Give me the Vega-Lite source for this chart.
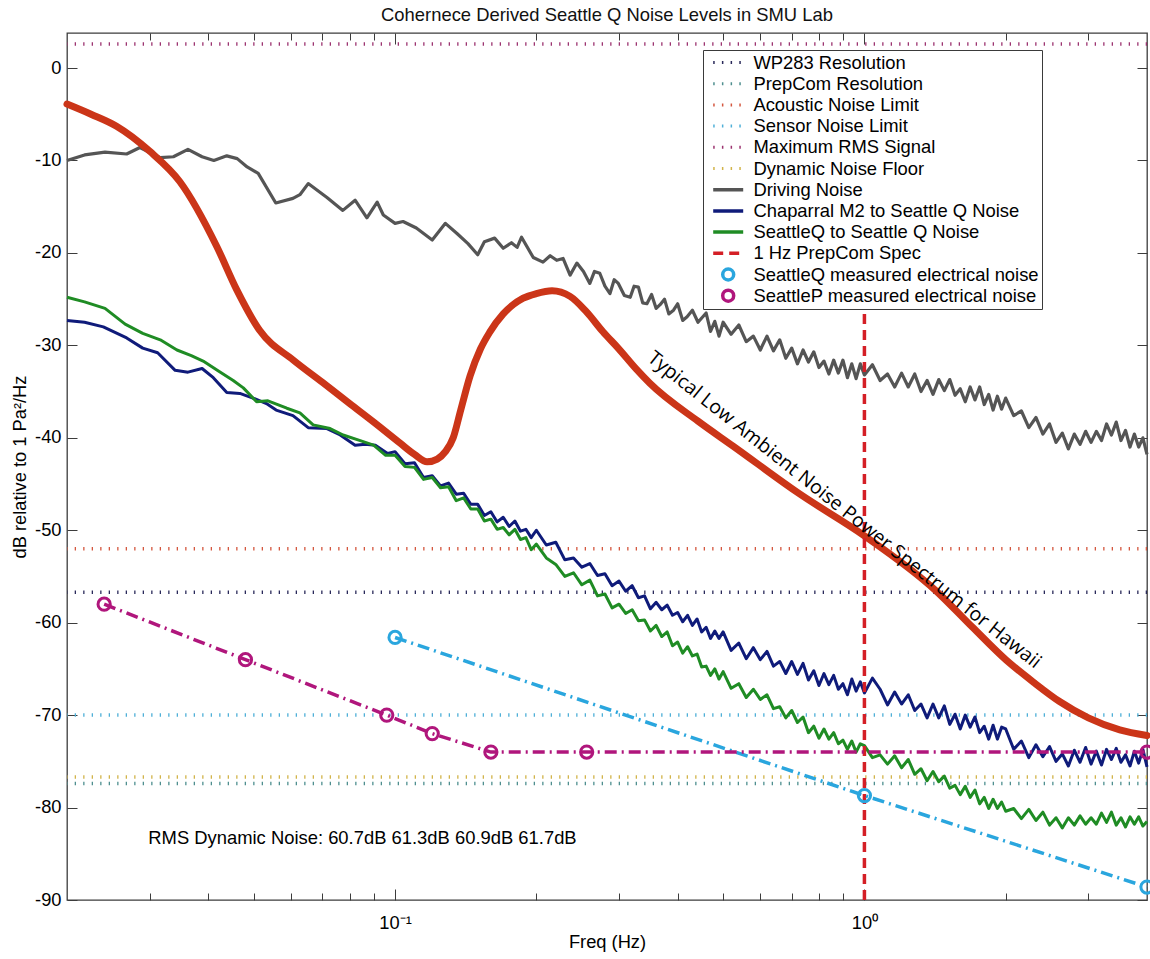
{
  "$schema": "https://vega.github.io/schema/vega-lite/v6.json",
  "width": 1080,
  "height": 867,
  "autosize": {"type": "none"},
  "padding": {"left": 67, "top": 33, "right": 3, "bottom": 59},
  "background": "white",
  "config": {
    "view": {"stroke": "#3c3c3c", "strokeWidth": 1.3},
    "font": "Liberation Sans",
    "axis": {"tickColor": "#3c3c3c", "labelColor": "#000", "titleColor": "#000", "grid": false, "domain": false, "tickWidth": 1}
  },
  "title": {"text": "Cohernece Derived Seattle Q Noise Levels in SMU Lab", "fontSize": 18.4, "fontWeight": "normal", "font": "Liberation Sans", "color": "#111", "frame": "group", "anchor": "middle", "offset": 8},
  "datasets": {
    "hl": [
      {"s": "WP283 Resolution", "v": -56.7},
      {"s": "PrepCom Resolution", "v": -77.4},
      {"s": "Acoustic Noise Limit", "v": -52.0},
      {"s": "Sensor Noise Limit", "v": -70.0},
      {"s": "Maximum RMS Signal", "v": 2.6},
      {"s": "Dynamic Noise Floor", "v": -76.7}
    ],
    "vr": [{"f": 1}],
    "meas": [
      {"s": "SeattleQ measured electrical noise", "f": 0.1, "v": -61.6},
      {"s": "SeattleQ measured electrical noise", "f": 1, "v": -78.7},
      {"s": "SeattleQ measured electrical noise", "f": 4, "v": -88.6},
      {"s": "SeattleP measured electrical noise", "f": 0.024, "v": -58.0},
      {"s": "SeattleP measured electrical noise", "f": 0.048, "v": -64.0},
      {"s": "SeattleP measured electrical noise", "f": 0.096, "v": -70.0},
      {"s": "SeattleP measured electrical noise", "f": 0.12, "v": -72.0},
      {"s": "SeattleP measured electrical noise", "f": 0.16, "v": -74.0},
      {"s": "SeattleP measured electrical noise", "f": 0.256, "v": -74.0},
      {"s": "SeattleP measured electrical noise", "f": 4, "v": -74.0}
    ],
    "ann": [{"f": 0.0298, "v": -83.3, "t": "RMS Dynamic Noise: 60.7dB 61.3dB 60.9dB 61.7dB"}],
    "ann2": [{"f": 0.906, "v": -47.8, "t": "Typical Low Ambient Noise Power Spectrum for Hawaii"}],
    "red": [
      {"f": 0.02, "v": -3.9}, {"f": 0.0225, "v": -5.0}, {"f": 0.0255, "v": -6.3}, {"f": 0.03, "v": -9.0},
      {"f": 0.0348, "v": -12.3}, {"f": 0.0417, "v": -19.3}, {"f": 0.046, "v": -24.0}, {"f": 0.0515, "v": -28.4},
      {"f": 0.0607, "v": -31.6}, {"f": 0.07, "v": -34.0}, {"f": 0.08, "v": -36.3}, {"f": 0.09, "v": -38.3},
      {"f": 0.1026, "v": -40.6}, {"f": 0.11, "v": -41.8}, {"f": 0.117, "v": -42.6}, {"f": 0.123, "v": -42.3},
      {"f": 0.128, "v": -41.5}, {"f": 0.133, "v": -40.0}, {"f": 0.138, "v": -37.0}, {"f": 0.1445, "v": -33.3},
      {"f": 0.152, "v": -30.4}, {"f": 0.159, "v": -28.6}, {"f": 0.17, "v": -26.6}, {"f": 0.1875, "v": -24.9},
      {"f": 0.2, "v": -24.4}, {"f": 0.216, "v": -24.1}, {"f": 0.236, "v": -24.7}, {"f": 0.255, "v": -26.3},
      {"f": 0.277, "v": -28.5}, {"f": 0.3, "v": -30.4}, {"f": 0.327, "v": -32.6}, {"f": 0.349, "v": -34.1},
      {"f": 0.442, "v": -38.2}, {"f": 0.525, "v": -40.9}, {"f": 0.729, "v": -46.1}, {"f": 1.0, "v": -50.6},
      {"f": 1.417, "v": -56.5}, {"f": 1.7, "v": -60.5}, {"f": 2.0, "v": -64.0}, {"f": 2.3, "v": -66.5},
      {"f": 2.6, "v": -68.5}, {"f": 3.0, "v": -70.3}, {"f": 3.5, "v": -71.6}, {"f": 4.0, "v": -72.2}
    ],
    "gray": [
      {"f": 0.02, "v": -10.0}, {"f": 0.0218, "v": -9.4}, {"f": 0.0241, "v": -9.1}, {"f": 0.0268, "v": -9.3},
      {"f": 0.0286, "v": -8.6}, {"f": 0.0316, "v": -9.7}, {"f": 0.0337, "v": -9.6}, {"f": 0.0362, "v": -8.8},
      {"f": 0.0388, "v": -9.6}, {"f": 0.0411, "v": -10.0}, {"f": 0.0438, "v": -9.5}, {"f": 0.0461, "v": -9.8},
      {"f": 0.0484, "v": -10.7}, {"f": 0.0511, "v": -11.4}, {"f": 0.0557, "v": -14.6}, {"f": 0.0606, "v": -14.1},
      {"f": 0.0627, "v": -13.7}, {"f": 0.0653, "v": -12.5}, {"f": 0.0716, "v": -14.0}, {"f": 0.0774, "v": -15.4},
      {"f": 0.0822, "v": -14.3}, {"f": 0.0871, "v": -16.2}, {"f": 0.0916, "v": -14.5}, {"f": 0.0944, "v": -15.9},
      {"f": 0.1, "v": -16.8}, {"f": 0.104, "v": -16.6}, {"f": 0.111, "v": -17.3}, {"f": 0.12, "v": -18.6},
      {"f": 0.128, "v": -16.8}, {"f": 0.1355, "v": -17.9}, {"f": 0.143, "v": -19.0}, {"f": 0.15, "v": -20.2},
      {"f": 0.155, "v": -18.8}, {"f": 0.163, "v": -18.4}, {"f": 0.17, "v": -19.5}, {"f": 0.177, "v": -18.9},
      {"f": 0.182, "v": -19.4}, {"f": 0.186, "v": -18.3}, {"f": 0.197, "v": -20.5}, {"f": 0.2066, "v": -21.0},
      {"f": 0.214, "v": -20.3}, {"f": 0.221, "v": -20.8}, {"f": 0.228, "v": -20.6}, {"f": 0.236, "v": -22.4},
      {"f": 0.244, "v": -21.1}, {"f": 0.252, "v": -22.0}, {"f": 0.26, "v": -23.3}, {"f": 0.266, "v": -22.0},
      {"f": 0.273, "v": -22.2}, {"f": 0.28, "v": -23.6}, {"f": 0.287, "v": -24.4}, {"f": 0.293, "v": -22.9},
      {"f": 0.299, "v": -23.3}, {"f": 0.308, "v": -24.6}, {"f": 0.317, "v": -24.8}, {"f": 0.323, "v": -23.6},
      {"f": 0.33, "v": -23.7}, {"f": 0.337, "v": -25.4}, {"f": 0.344, "v": -25.5}, {"f": 0.352, "v": -24.5},
      {"f": 0.36, "v": -26.0}, {"f": 0.367, "v": -25.6}, {"f": 0.375, "v": -25.0}, {"f": 0.383, "v": -26.6},
      {"f": 0.392, "v": -26.2}, {"f": 0.4, "v": -25.5}, {"f": 0.41, "v": -27.3}, {"f": 0.419, "v": -26.9},
      {"f": 0.43, "v": -26.2}, {"f": 0.442, "v": -27.5},
      {"f": 0.46, "v": -26.5}, {"f": 0.47, "v": -28.5}, {"f": 0.48, "v": -27.4}, {"f": 0.49, "v": -29.0},
      {"f": 0.5, "v": -27.5}, {"f": 0.52, "v": -28.8}, {"f": 0.54, "v": -27.8}, {"f": 0.56, "v": -29.6},
      {"f": 0.58, "v": -29.0}, {"f": 0.6, "v": -30.5}, {"f": 0.62, "v": -29.0}, {"f": 0.64, "v": -30.6},
      {"f": 0.66, "v": -29.4}, {"f": 0.68, "v": -31.4}, {"f": 0.7, "v": -30.3}, {"f": 0.72, "v": -32.0},
      {"f": 0.74, "v": -30.5}, {"f": 0.76, "v": -31.8}, {"f": 0.78, "v": -30.7}, {"f": 0.8, "v": -32.4},
      {"f": 0.82, "v": -31.7}, {"f": 0.84, "v": -33.1}, {"f": 0.86, "v": -31.6}, {"f": 0.88, "v": -33.0},
      {"f": 0.9, "v": -31.6}, {"f": 0.92, "v": -33.5}, {"f": 0.94, "v": -32.0}, {"f": 0.96, "v": -33.6},
      {"f": 0.98, "v": -32.0}, {"f": 1.0, "v": -33.2}, {"f": 1.04, "v": -32.1}, {"f": 1.08, "v": -33.8},
      {"f": 1.12, "v": -33.1}, {"f": 1.16, "v": -34.5}, {"f": 1.2, "v": -33.0}, {"f": 1.24, "v": -34.5},
      {"f": 1.28, "v": -33.1}, {"f": 1.32, "v": -35.0}, {"f": 1.36, "v": -33.8}, {"f": 1.4, "v": -35.3},
      {"f": 1.44, "v": -33.7}, {"f": 1.48, "v": -34.9}, {"f": 1.52, "v": -33.7}, {"f": 1.56, "v": -35.4},
      {"f": 1.6, "v": -34.7}, {"f": 1.64, "v": -36.1}, {"f": 1.68, "v": -34.5}, {"f": 1.72, "v": -35.9},
      {"f": 1.76, "v": -34.5}, {"f": 1.8, "v": -36.4}, {"f": 1.84, "v": -35.3}, {"f": 1.88, "v": -37.0},
      {"f": 1.92, "v": -35.5}, {"f": 1.96, "v": -36.9}, {"f": 2.0, "v": -35.7}, {"f": 2.08, "v": -37.6},
      {"f": 2.16, "v": -37.1}, {"f": 2.24, "v": -38.9}, {"f": 2.32, "v": -37.8}, {"f": 2.4, "v": -39.6},
      {"f": 2.48, "v": -38.5}, {"f": 2.56, "v": -40.5}, {"f": 2.64, "v": -39.5}, {"f": 2.72, "v": -41.2},
      {"f": 2.8, "v": -39.6}, {"f": 2.88, "v": -40.7}, {"f": 2.96, "v": -39.3}, {"f": 3.04, "v": -40.5},
      {"f": 3.12, "v": -39.3}, {"f": 3.2, "v": -40.3}, {"f": 3.28, "v": -38.5}, {"f": 3.36, "v": -39.7},
      {"f": 3.44, "v": -38.3}, {"f": 3.52, "v": -40.3}, {"f": 3.6, "v": -39.2}, {"f": 3.68, "v": -41.0},
      {"f": 3.76, "v": -39.6}, {"f": 3.84, "v": -41.0}, {"f": 3.92, "v": -40.0}, {"f": 4.0, "v": -41.8}
    ],
    "navy": [
      {"f": 0.02, "v": -27.3}, {"f": 0.0218, "v": -27.5}, {"f": 0.0239, "v": -28.0}, {"f": 0.0268, "v": -29.2},
      {"f": 0.029, "v": -30.3}, {"f": 0.0312, "v": -30.8}, {"f": 0.034, "v": -32.7}, {"f": 0.0362, "v": -32.9},
      {"f": 0.0388, "v": -32.5}, {"f": 0.041, "v": -33.5}, {"f": 0.0438, "v": -35.1}, {"f": 0.0467, "v": -35.2},
      {"f": 0.0498, "v": -35.7}, {"f": 0.0532, "v": -36.3}, {"f": 0.0558, "v": -37.0}, {"f": 0.0606, "v": -37.6},
      {"f": 0.0653, "v": -38.9}, {"f": 0.0716, "v": -39.0}, {"f": 0.0764, "v": -39.7}, {"f": 0.0822, "v": -40.8},
      {"f": 0.0864, "v": -40.7}, {"f": 0.0908, "v": -40.8}, {"f": 0.0964, "v": -41.7},
      {"f": 0.1, "v": -41.5}, {"f": 0.105, "v": -42.8}, {"f": 0.11, "v": -42.7}, {"f": 0.115, "v": -44.3},
      {"f": 0.12, "v": -44.1}, {"f": 0.125, "v": -45.2}, {"f": 0.13, "v": -44.9}, {"f": 0.135, "v": -46.1},
      {"f": 0.14, "v": -46.0}, {"f": 0.145, "v": -47.2}, {"f": 0.15, "v": -47.2}, {"f": 0.155, "v": -48.4},
      {"f": 0.16, "v": -48.0}, {"f": 0.165, "v": -49.1}, {"f": 0.17, "v": -48.6}, {"f": 0.175, "v": -49.6},
      {"f": 0.18, "v": -49.0}, {"f": 0.185, "v": -50.1}, {"f": 0.19, "v": -49.9}, {"f": 0.195, "v": -50.8},
      {"f": 0.2, "v": -50.0}, {"f": 0.21, "v": -51.6}, {"f": 0.22, "v": -51.3}, {"f": 0.23, "v": -53.2},
      {"f": 0.24, "v": -53.0}, {"f": 0.25, "v": -54.0}, {"f": 0.26, "v": -53.6}, {"f": 0.27, "v": -54.9},
      {"f": 0.28, "v": -54.7}, {"f": 0.29, "v": -56.0}, {"f": 0.3, "v": -55.5}, {"f": 0.31, "v": -56.6},
      {"f": 0.32, "v": -56.0}, {"f": 0.33, "v": -57.3}, {"f": 0.34, "v": -57.1}, {"f": 0.35, "v": -58.5},
      {"f": 0.36, "v": -57.8}, {"f": 0.37, "v": -58.6}, {"f": 0.38, "v": -58.1}, {"f": 0.39, "v": -59.2},
      {"f": 0.4, "v": -58.9}, {"f": 0.41, "v": -59.9}, {"f": 0.42, "v": -59.2}, {"f": 0.43, "v": -60.3},
      {"f": 0.44, "v": -59.6}, {"f": 0.45, "v": -61.0}, {"f": 0.46, "v": -60.5}, {"f": 0.47, "v": -61.7},
      {"f": 0.48, "v": -60.9}, {"f": 0.49, "v": -61.7}, {"f": 0.5, "v": -61.0}, {"f": 0.52, "v": -63.0},
      {"f": 0.54, "v": -62.2}, {"f": 0.56, "v": -63.9}, {"f": 0.58, "v": -62.7}, {"f": 0.6, "v": -64.0},
      {"f": 0.62, "v": -63.1}, {"f": 0.64, "v": -64.7}, {"f": 0.66, "v": -64.2}, {"f": 0.68, "v": -65.5},
      {"f": 0.7, "v": -64.2}, {"f": 0.72, "v": -65.6}, {"f": 0.74, "v": -64.4}, {"f": 0.76, "v": -66.2},
      {"f": 0.78, "v": -65.2}, {"f": 0.8, "v": -66.8}, {"f": 0.82, "v": -65.5}, {"f": 0.84, "v": -66.7},
      {"f": 0.86, "v": -65.7}, {"f": 0.88, "v": -67.2}, {"f": 0.9, "v": -66.6}, {"f": 0.92, "v": -67.8},
      {"f": 0.94, "v": -66.1}, {"f": 0.96, "v": -67.4}, {"f": 0.98, "v": -66.4}, {"f": 1.0, "v": -67.6},
      {"f": 1.04, "v": -66.0}, {"f": 1.08, "v": -67.2}, {"f": 1.12, "v": -68.9}, {"f": 1.16, "v": -67.5},
      {"f": 1.2, "v": -68.8}, {"f": 1.24, "v": -67.8}, {"f": 1.28, "v": -69.5}, {"f": 1.32, "v": -68.8},
      {"f": 1.36, "v": -70.3}, {"f": 1.4, "v": -68.8}, {"f": 1.44, "v": -70.3}, {"f": 1.48, "v": -69.0},
      {"f": 1.52, "v": -71.0}, {"f": 1.56, "v": -69.9}, {"f": 1.6, "v": -71.5}, {"f": 1.64, "v": -70.0},
      {"f": 1.68, "v": -71.3}, {"f": 1.72, "v": -70.2}, {"f": 1.76, "v": -71.9}, {"f": 1.8, "v": -71.2},
      {"f": 1.84, "v": -72.6}, {"f": 1.88, "v": -71.1}, {"f": 1.92, "v": -72.6}, {"f": 1.96, "v": -71.3},
      {"f": 2.0, "v": -71.5}, {"f": 2.08, "v": -73.7}, {"f": 2.16, "v": -72.8}, {"f": 2.24, "v": -74.6},
      {"f": 2.32, "v": -73.2}, {"f": 2.4, "v": -74.5}, {"f": 2.48, "v": -73.4}, {"f": 2.56, "v": -75.0},
      {"f": 2.64, "v": -74.2}, {"f": 2.72, "v": -75.5}, {"f": 2.8, "v": -73.8}, {"f": 2.88, "v": -75.1},
      {"f": 2.96, "v": -73.5}, {"f": 3.04, "v": -75.3}, {"f": 3.12, "v": -73.9}, {"f": 3.2, "v": -75.4},
      {"f": 3.28, "v": -73.7}, {"f": 3.36, "v": -74.8}, {"f": 3.44, "v": -73.6}, {"f": 3.52, "v": -75.1},
      {"f": 3.6, "v": -74.3}, {"f": 3.68, "v": -75.5}, {"f": 3.76, "v": -73.9}, {"f": 3.84, "v": -75.2},
      {"f": 3.92, "v": -73.7}, {"f": 4.0, "v": -75.6}
    ],
    "green": [
      {"f": 0.02, "v": -24.8}, {"f": 0.0218, "v": -25.3}, {"f": 0.0241, "v": -26.0}, {"f": 0.0266, "v": -27.7},
      {"f": 0.029, "v": -28.7}, {"f": 0.0316, "v": -29.4}, {"f": 0.0343, "v": -30.5}, {"f": 0.0368, "v": -31.1},
      {"f": 0.039, "v": -31.7}, {"f": 0.0418, "v": -32.7}, {"f": 0.0452, "v": -33.8}, {"f": 0.0475, "v": -34.6},
      {"f": 0.0507, "v": -36.1}, {"f": 0.0536, "v": -36.0}, {"f": 0.0588, "v": -36.8}, {"f": 0.0627, "v": -37.3},
      {"f": 0.0669, "v": -38.6}, {"f": 0.0727, "v": -39.0}, {"f": 0.0775, "v": -39.7}, {"f": 0.0843, "v": -40.3},
      {"f": 0.09, "v": -40.8}, {"f": 0.0955, "v": -41.9},
      {"f": 0.1, "v": -41.9}, {"f": 0.105, "v": -43.1}, {"f": 0.11, "v": -43.2}, {"f": 0.115, "v": -44.5},
      {"f": 0.12, "v": -44.3}, {"f": 0.125, "v": -45.4}, {"f": 0.13, "v": -45.3}, {"f": 0.135, "v": -46.8},
      {"f": 0.14, "v": -46.5}, {"f": 0.145, "v": -47.7}, {"f": 0.15, "v": -47.7}, {"f": 0.155, "v": -49.0},
      {"f": 0.16, "v": -48.8}, {"f": 0.165, "v": -49.9}, {"f": 0.17, "v": -49.7}, {"f": 0.175, "v": -50.5},
      {"f": 0.18, "v": -49.9}, {"f": 0.185, "v": -51.0}, {"f": 0.19, "v": -50.8}, {"f": 0.195, "v": -52.1},
      {"f": 0.2, "v": -51.5}, {"f": 0.21, "v": -53.0}, {"f": 0.22, "v": -53.7}, {"f": 0.23, "v": -55.0},
      {"f": 0.24, "v": -54.6}, {"f": 0.25, "v": -55.9}, {"f": 0.26, "v": -55.4}, {"f": 0.27, "v": -57.1},
      {"f": 0.28, "v": -56.9}, {"f": 0.29, "v": -58.4}, {"f": 0.3, "v": -58.0}, {"f": 0.31, "v": -59.0},
      {"f": 0.32, "v": -58.6}, {"f": 0.33, "v": -59.8}, {"f": 0.34, "v": -59.7}, {"f": 0.35, "v": -60.9},
      {"f": 0.36, "v": -60.3}, {"f": 0.37, "v": -61.5}, {"f": 0.38, "v": -61.0}, {"f": 0.39, "v": -62.5},
      {"f": 0.4, "v": -62.1}, {"f": 0.41, "v": -63.3}, {"f": 0.42, "v": -62.6}, {"f": 0.43, "v": -63.6},
      {"f": 0.44, "v": -63.4}, {"f": 0.45, "v": -64.8}, {"f": 0.46, "v": -64.7}, {"f": 0.47, "v": -65.7},
      {"f": 0.48, "v": -65.0}, {"f": 0.49, "v": -66.1}, {"f": 0.5, "v": -65.3}, {"f": 0.52, "v": -67.1},
      {"f": 0.54, "v": -66.6}, {"f": 0.56, "v": -68.1}, {"f": 0.58, "v": -67.2}, {"f": 0.6, "v": -68.3},
      {"f": 0.62, "v": -67.8}, {"f": 0.64, "v": -69.3}, {"f": 0.66, "v": -69.1}, {"f": 0.68, "v": -70.3},
      {"f": 0.7, "v": -69.5}, {"f": 0.72, "v": -70.8}, {"f": 0.74, "v": -70.2}, {"f": 0.76, "v": -71.9},
      {"f": 0.78, "v": -71.2}, {"f": 0.8, "v": -72.5}, {"f": 0.82, "v": -71.5}, {"f": 0.84, "v": -72.6},
      {"f": 0.86, "v": -71.9}, {"f": 0.88, "v": -73.1}, {"f": 0.9, "v": -72.7}, {"f": 0.92, "v": -73.7},
      {"f": 0.94, "v": -72.8}, {"f": 0.96, "v": -74.0}, {"f": 0.98, "v": -73.1}, {"f": 1.0, "v": -73.3},
      {"f": 1.04, "v": -74.6}, {"f": 1.08, "v": -74.3}, {"f": 1.12, "v": -75.3}, {"f": 1.16, "v": -74.4},
      {"f": 1.2, "v": -75.7}, {"f": 1.24, "v": -74.8}, {"f": 1.28, "v": -76.4}, {"f": 1.32, "v": -75.8},
      {"f": 1.36, "v": -77.1}, {"f": 1.4, "v": -76.1}, {"f": 1.44, "v": -77.2}, {"f": 1.48, "v": -76.6},
      {"f": 1.52, "v": -77.9}, {"f": 1.56, "v": -77.6}, {"f": 1.6, "v": -78.6}, {"f": 1.64, "v": -77.7},
      {"f": 1.68, "v": -78.9}, {"f": 1.72, "v": -78.1}, {"f": 1.76, "v": -79.6}, {"f": 1.8, "v": -78.9},
      {"f": 1.84, "v": -80.1}, {"f": 1.88, "v": -79.1}, {"f": 1.92, "v": -80.1}, {"f": 1.96, "v": -79.4},
      {"f": 2.0, "v": -80.4}, {"f": 2.08, "v": -80.1}, {"f": 2.16, "v": -81.2}, {"f": 2.24, "v": -80.2},
      {"f": 2.32, "v": -81.4}, {"f": 2.4, "v": -80.5}, {"f": 2.48, "v": -81.9}, {"f": 2.56, "v": -81.1},
      {"f": 2.64, "v": -82.2}, {"f": 2.72, "v": -81.1}, {"f": 2.8, "v": -81.9}, {"f": 2.88, "v": -80.9},
      {"f": 2.96, "v": -81.8}, {"f": 3.04, "v": -81.1}, {"f": 3.12, "v": -81.8}, {"f": 3.2, "v": -80.6},
      {"f": 3.28, "v": -81.6}, {"f": 3.36, "v": -80.5}, {"f": 3.44, "v": -81.9}, {"f": 3.52, "v": -81.1},
      {"f": 3.6, "v": -82.1}, {"f": 3.68, "v": -81.0}, {"f": 3.76, "v": -81.8}, {"f": 3.84, "v": -81.0},
      {"f": 3.92, "v": -82.0}, {"f": 4.0, "v": -81.5}
    ]
  },
  "layer": [
    {
      "data": {"name": "hl"},
      "mark": {"type": "rule", "strokeDash": [1.3, 7.2], "strokeWidth": 3.5, "strokeCap": "butt"},
      "encoding": {
        "y": {"field": "v", "type": "quantitative", "scale": {"domain": [-90, 3.79], "nice": false, "zero": false},
          "axis": {"orient": "left", "values": [-90, -80, -70, -60, -50, -40, -30, -20, -10, 0], "labelExpr": "'' + datum.value", "tickSize": -10, "labelPadding": 16, "labelFontSize": 18.3, "labelFont": "Liberation Sans", "title": "dB relative to 1 Pa²/Hz", "titleFontSize": 18.3, "titleFontWeight": "normal", "titleFont": "Liberation Sans", "titlePadding": 5}},
        "color": {"field": "s", "type": "nominal",
          "scale": {
            "domain": ["WP283 Resolution", "PrepCom Resolution", "Acoustic Noise Limit", "Sensor Noise Limit", "Maximum RMS Signal", "Dynamic Noise Floor", "Driving Noise", "Chaparral M2 to Seattle Q Noise", "SeattleQ to Seattle Q Noise", "1 Hz PrepCom Spec", "SeattleQ measured electrical noise", "SeattleP measured electrical noise"],
            "range": ["#2a2a5a", "#4f8f8f", "#d4573f", "#4fb0d8", "#9c3470", "#d2b44a", "#555555", "#0f1b7a", "#1f8c24", "#d41f26", "#2aa6de", "#b0167c"]
          },
          "legend": {
            "orient": "none", "legendX": 636, "legendY": 17, "title": null, "direction": "vertical", "columns": 1,
            "strokeColor": "#3a3a3a", "fillColor": "white", "padding": 3,
            "labelFont": "Liberation Sans", "labelFontSize": 18.4, "labelLimit": 400, "labelColor": "#000",
            "symbolType": "stroke", "symbolSize": 900, "symbolStrokeWidth": 3, "symbolOffset": 13, "labelOffset": 16,
            "clipHeight": 19, "rowPadding": 2.2,
            "encode": {"symbols": {"update": {
              "shape": {"signal": "datum.index >= 10 ? 'circle' : 'stroke'"},
              "size": {"signal": "datum.index >= 10 ? 120 : 900"},
              "strokeDash": {"signal": "datum.index < 6 ? [1.5, 7.2] : (datum.index == 9 ? [10, 6] : [])"},
              "strokeWidth": {"signal": "datum.index < 6 ? 3 : 3.5"},
              "fill": {"value": "transparent"}
            }}}
          }
        }
      }
    },
    {
      "data": {"name": "gray"},
      "mark": {"type": "line", "strokeWidth": 3.2, "strokeJoin": "round"},
      "encoding": {
        "x": {"field": "f", "type": "quantitative", "scale": {"type": "log", "domain": [0.02, 4], "nice": false},
          "axis": {"orient": "bottom", "values": [0.03, 0.04, 0.05, 0.06, 0.07, 0.08, 0.09, 0.2, 0.3, 0.4, 0.5, 0.6, 0.7, 0.8, 0.9, 2, 3], "tickSize": -7, "labels": false, "title": null}},
        "y": {"field": "v", "type": "quantitative", "axis": {"orient": "right", "values": [-90, -80, -70, -60, -50, -40, -30, -20, -10, 0], "tickSize": -10, "labels": false, "title": null}},
        "color": {"datum": "Driving Noise", "type": "nominal"}
      }
    },
    {
      "data": {"name": "navy"},
      "mark": {"type": "line", "strokeWidth": 3, "strokeJoin": "round"},
      "encoding": {
        "x": {"field": "f", "type": "quantitative", "axis": {"orient": "top", "values": [0.1, 1], "tickSize": -11, "labels": false, "title": null}},
        "y": {"field": "v", "type": "quantitative", "axis": null},
        "color": {"datum": "Chaparral M2 to Seattle Q Noise", "type": "nominal"}
      }
    },
    {
      "data": {"name": "green"},
      "mark": {"type": "line", "strokeWidth": 3, "strokeJoin": "round"},
      "encoding": {
        "x": {"field": "f", "type": "quantitative", "axis": {"orient": "top", "values": [0.03, 0.04, 0.05, 0.06, 0.07, 0.08, 0.09, 0.2, 0.3, 0.4, 0.5, 0.6, 0.7, 0.8, 0.9, 2, 3], "tickSize": -7, "labels": false, "title": null}},
        "y": {"field": "v", "type": "quantitative", "axis": null},
        "color": {"datum": "SeattleQ to Seattle Q Noise", "type": "nominal"}
      }
    },
    {
      "data": {"name": "red"},
      "mark": {"type": "line", "strokeWidth": 7, "color": "#cb3518", "interpolate": "monotone", "strokeCap": "round"},
      "encoding": {
        "x": {"field": "f", "type": "quantitative", "axis": null},
        "y": {"field": "v", "type": "quantitative", "axis": null}
      }
    },
    {
      "data": {"name": "vr"},
      "mark": {"type": "rule", "strokeDash": [10, 6], "strokeWidth": 3.5},
      "encoding": {
        "x": {"field": "f", "type": "quantitative",
          "axis": {"orient": "bottom", "values": [0.1, 1], "labelExpr": "datum.value < 0.5 ? '10⁻¹' : '10⁰'", "tickSize": -11, "labelPadding": 25, "labelFontSize": 18.3, "labelFont": "Liberation Sans", "title": "Freq (Hz)", "titleFontSize": 18.3, "titleFontWeight": "normal", "titleFont": "Liberation Sans", "titlePadding": 2}},
        "y": {"datum": -90, "type": "quantitative", "axis": null},
        "y2": {"datum": -26.0},
        "color": {"datum": "1 Hz PrepCom Spec", "type": "nominal"}
      }
    },
    {
      "data": {"name": "meas"},
      "mark": {"type": "line", "strokeWidth": 3.5, "strokeDash": [12, 5, 2, 5]},
      "encoding": {
        "x": {"field": "f", "type": "quantitative", "axis": null},
        "y": {"field": "v", "type": "quantitative", "axis": null},
        "color": {"field": "s", "type": "nominal"},
        "detail": {"field": "s"}
      }
    },
    {
      "data": {"name": "meas"},
      "mark": {"type": "point", "shape": "circle", "filled": false, "size": 150, "strokeWidth": 3, "opacity": 1},
      "encoding": {
        "x": {"field": "f", "type": "quantitative", "axis": null},
        "y": {"field": "v", "type": "quantitative", "axis": null},
        "color": {"field": "s", "type": "nominal"}
      }
    },
    {
      "data": {"name": "ann"},
      "mark": {"type": "text", "align": "left", "baseline": "middle", "fontSize": 18.4, "font": "Liberation Sans", "color": "#000"},
      "encoding": {
        "x": {"field": "f", "type": "quantitative", "axis": null},
        "y": {"field": "v", "type": "quantitative", "axis": null},
        "text": {"field": "t"}
      }
    },
    {
      "data": {"name": "ann2"},
      "mark": {"type": "text", "align": "center", "baseline": "middle", "fontSize": 19.5, "font": "Open Sans", "color": "#000", "angle": 38.5},
      "encoding": {
        "x": {"field": "f", "type": "quantitative", "axis": null},
        "y": {"field": "v", "type": "quantitative", "axis": null},
        "text": {"field": "t"}
      }
    }
  ],
  "resolve": {"axis": {"x": "independent", "y": "independent"}}
}
